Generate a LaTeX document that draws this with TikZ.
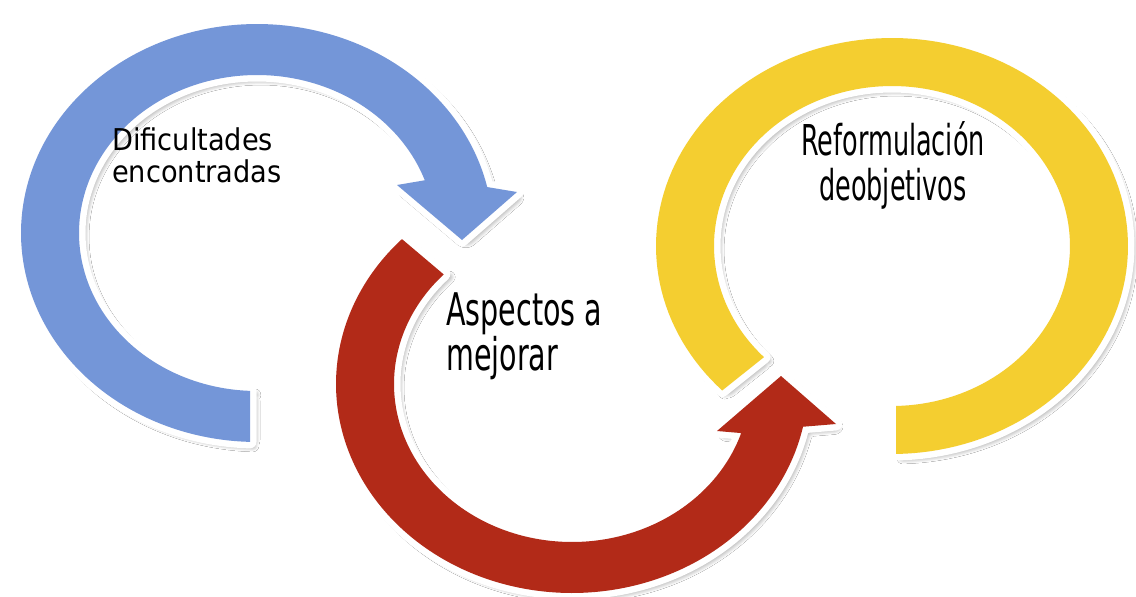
\documentclass[tikz,border=0pt]{standalone}
\usepackage{fontspec}
\usetikzlibrary{shadows.blur}
\newfontfamily\difont[FakeStretch=0.907]{DejaVu Sans}
\newfontfamily\aspfont[FakeStretch=0.635]{DejaVu Sans}
\newfontfamily\reffont[FakeStretch=0.6]{DejaVu Sans}
\definecolor{ringblue}{RGB}{116,150,216}
\definecolor{ringred}{RGB}{178,42,24}
\definecolor{ringyellow}{RGB}{244,206,48}
\begin{document}
\begin{tikzpicture}[x=1pt,y=-1pt,
  band/.style={blur shadow={shadow xshift=4pt, shadow yshift=-4pt, shadow opacity=55, shadow blur radius=6pt, shadow blur extra rounding=6pt, shadow blur steps=10},
               preaction={draw=white, line width=13pt, line join=round}, fill=#1},
  lbl/.style={inner sep=0pt, text=black}]
\fill[white] (0,0) rectangle (1136,597);
\useasboundingbox (0,0) rectangle (1136,597);
% blue circular arrow
\path[band=ringblue] plot[domain=91.7:347.3,samples=150] ({257+236*cos(\x)},{233+209*sin(\x)})
  -- (517,192) -- (462,240) -- (397,185)
  -- plot[domain=340.5:92.25,samples=150] ({257+178*cos(\x)},{233+158*sin(\x)}) -- cycle;
% red circular arrow
\path[band=ringred] plot[domain=223.9:11.8,samples=150] ({572+236*cos(\x)},{384+209*sin(\x)})
  -- (836,424) -- (781,376) -- (717,431)
  -- plot[domain=18.1:223.9,samples=150] ({572+178*cos(\x)},{384+158*sin(\x)}) -- cycle;
% yellow ring
\path[band=ringyellow] plot[domain=136:449,samples=150] ({892+236*cos(\x)},{246+208*sin(\x)})
  -- plot[domain=448.7:136,samples=150] ({892+178*cos(\x)},{246+160*sin(\x)}) -- cycle;
% labels
\node[lbl, anchor=base west, align=left, font=\difont\fontsize{30}{32}\selectfont] (dif) at (112,182) {Dificultades\\encontradas};
\node[lbl, anchor=base west, align=left, font=\aspfont\fontsize{45}{37}\selectfont] (asp) at (446,370) {Aspectos a\\mejorar};
\node[lbl, anchor=base, align=center, font=\reffont\fontsize{42.5}{45}\selectfont] (ref) at (893,200) {Reformulación\\deobjetivos};
\end{tikzpicture}
\end{document}
